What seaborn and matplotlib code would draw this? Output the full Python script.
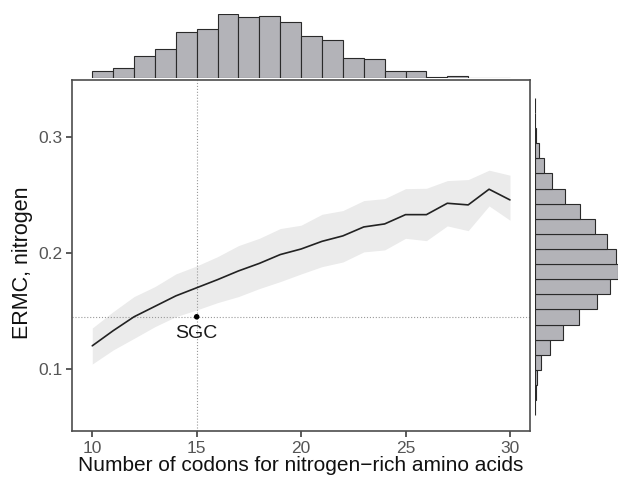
import numpy as np
import pandas as pd
import matplotlib
matplotlib.use('Agg')
import matplotlib.pyplot as plt
import seaborn as sns

# data
codons = list(range(10, 31))
ermc_mean = [0.120, 0.133, 0.145, 0.154, 0.163, 0.170, 0.177, 0.1845, 0.191, 0.1986, 0.2034,
             0.210, 0.2147, 0.2224, 0.225, 0.233, 0.233, 0.2428, 0.2414, 0.2549, 0.2457]
ermc_upper = [0.1353, 0.1494, 0.1624, 0.171, 0.1819, 0.1888, 0.1968, 0.2063, 0.2126, 0.221, 0.2239,
              0.2333, 0.2365, 0.2451, 0.2468, 0.2554, 0.2557, 0.2623, 0.2632, 0.2713, 0.267]
ermc_lower = [0.1043, 0.1164, 0.1264, 0.1365, 0.1451, 0.1509, 0.1572, 0.1624, 0.1693, 0.1753, 0.1819,
              0.1882, 0.1922, 0.2009, 0.2026, 0.2126, 0.2106, 0.2233, 0.2192, 0.2405, 0.2282]

sgc_x = 15
sgc_y = 0.145

# marginal histogram of codon number (bins of width 1 from 10 to 30)
top_edges = list(range(10, 31))
top_counts = [20, 31, 65, 86, 136, 145, 191, 182, 184, 167, 125, 113, 61, 58, 20, 20, 4, 5, 1, 1]

# marginal histogram of ERMC (21 bins, lowest to highest)
right_lo, right_hi, right_nbins = 0.0602, 0.3336, 21
right_counts = [0.5, 2, 7, 19, 45, 84, 134, 188, 227, 250, 245, 218, 180, 137, 90, 51, 26, 12, 4, 0.5, 0.5]

df = pd.DataFrame({'codons': codons, 'ermc': ermc_mean, 'lo': ermc_lower, 'hi': ermc_upper})

sns.set_style('white')
plt.rcParams['font.family'] = ['Liberation Sans', 'DejaVu Sans']

W, H = 619, 479
fig = plt.figure(figsize=(W / 100, H / 100), dpi=100)

def px_axes(x0, y0, x1, y1):
    return fig.add_axes([x0 / W, 1 - y1 / H, (x1 - x0) / W, (y1 - y0) / H])

ax = px_axes(72, 80, 530, 431)
ax_top = px_axes(72, 14, 530, 78)
ax_right = px_axes(535, 80, 618, 431)

xlim = (9.03, 30.96)
ylim = (0.0466, 0.349)

# main panel
ax.fill_between(df['codons'], df['lo'], df['hi'], color='#ebebeb', linewidth=0, zorder=1)
sns.lineplot(data=df, x='codons', y='ermc', color='#222222', linewidth=1.2, ax=ax, zorder=3)
ax.axvline(sgc_x, color='#9a9a9a', linestyle=':', linewidth=0.8, zorder=2)
ax.axhline(sgc_y, color='#9a9a9a', linestyle=':', linewidth=0.8, zorder=2)
sns.scatterplot(x=[sgc_x], y=[sgc_y], color='black', s=16, ax=ax, zorder=4, edgecolor='none')
ax.text(sgc_x, 0.1267, 'SGC', ha='center', va='baseline', fontsize=14, color='#1a1a1a')

ax.set_xlim(*xlim)
ax.set_ylim(*ylim)
ax.set_xticks([10, 15, 20, 25, 30])
ax.set_yticks([0.1, 0.2, 0.3])
ax.set_yticklabels(['0.1', '0.2', '0.3'])
ax.tick_params(axis='both', direction='out', length=4, width=1.3, color='#4d4d4d',
               labelcolor='#555555', labelsize=12.5, pad=3, bottom=True, left=True)
for s in ax.spines.values():
    s.set_color('#4d4d4d')
    s.set_linewidth(1.2)
ax.set_xlabel('Number of codons for nitrogen\u2212rich amino acids', fontsize=15, color='#111111')
ax.set_ylabel('ERMC, nitrogen', fontsize=15.5, color='#111111')
ax.xaxis.set_label_coords(0.5, (431 - 456) / 351)
ax.yaxis.set_label_coords((33 - 72) / 458, (431 - 262.5) / 351)

# top histogram
top_centers = [(a + b) / 2 for a, b in zip(top_edges[:-1], top_edges[1:])]
sns.histplot(x=top_centers, weights=top_counts, bins=top_edges, color='#b3b3b8',
             edgecolor='#2a2a2a', linewidth=0.8, alpha=1, ax=ax_top)
ax_top.set_xlim(*xlim)
ax_top.set_ylim(0, max(top_counts))
ax_top.axis('off')

# right histogram
right_edges = list(np.linspace(right_lo, right_hi, right_nbins + 1))
right_centers = [(a + b) / 2 for a, b in zip(right_edges[:-1], right_edges[1:])]
sns.histplot(y=right_centers, weights=right_counts, bins=right_edges, color='#b3b3b8',
             edgecolor='#2a2a2a', linewidth=0.8, alpha=1, ax=ax_right)
ax_right.set_ylim(*ylim)
ax_right.set_xlim(0, max(right_counts))
ax_right.axis('off')

fig.savefig('out.png', dpi=100)
